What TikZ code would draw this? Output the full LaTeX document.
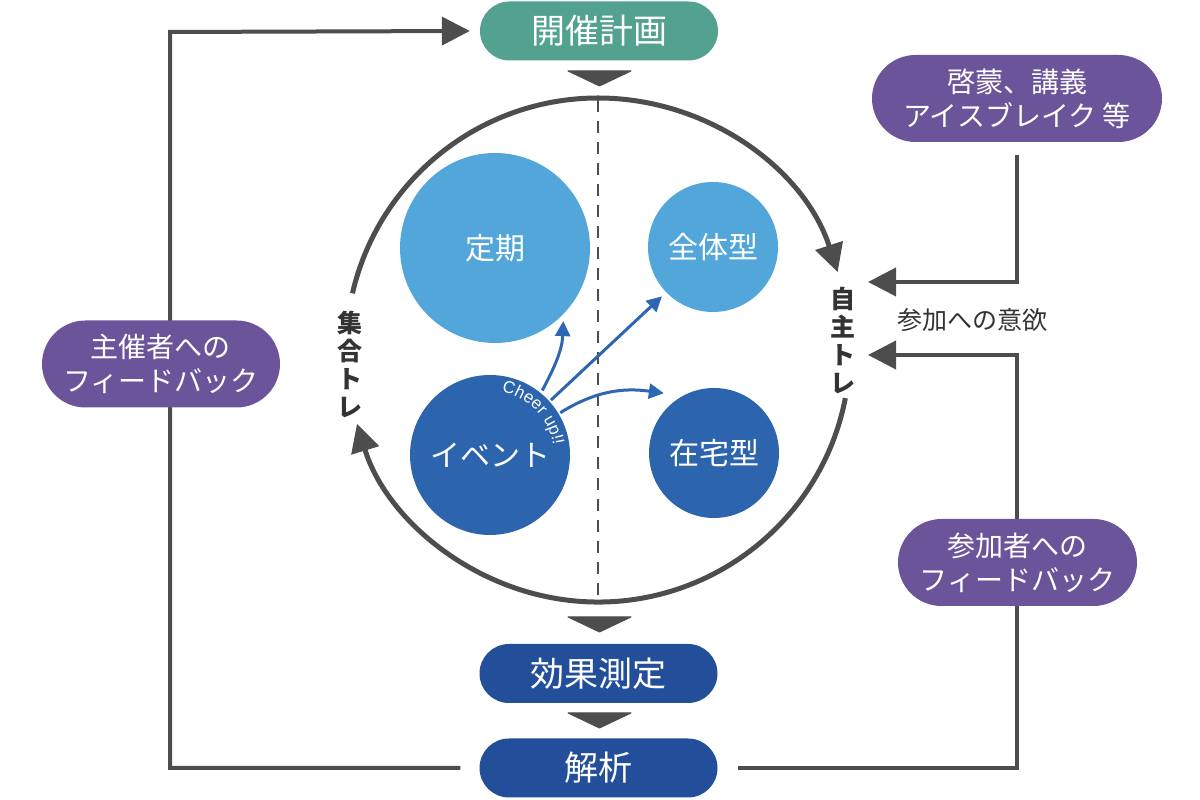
\documentclass[tikz,border=0pt]{standalone}
\usepackage{fontspec}
\setmainfont{Noto Sans CJK JP}
\newfontfamily\latinf{Liberation Sans}
\usetikzlibrary{arrows.meta,decorations.text,shapes.misc}
\definecolor{plangreen}{HTML}{52A28F}
\definecolor{navy}{HTML}{234E99}
\definecolor{purp}{HTML}{6B5499}
\definecolor{lblue}{HTML}{53A6DA}
\definecolor{dblue}{HTML}{2C64AD}
\definecolor{arrblue}{HTML}{2F66B3}
\definecolor{gry}{HTML}{4D4D4D}
\definecolor{txtgry}{HTML}{333333}
\begin{document}
\begin{tikzpicture}[x=1pt,y=1pt,
  pill/.style={rounded rectangle, inner sep=0pt, text=white, align=center},
  stepnode/.style={pill, minimum width=238pt, minimum height=59pt, font=\fontsize{34}{40}\selectfont},
  fb/.style={pill, fill=purp, minimum height=87pt, font=\fontsize{28}{34}\selectfont},
  ball/.style={circle, inner sep=0pt, text=white, font=\fontsize{30}{34}\selectfont},
  ring/.style={draw=gry, line width=5pt},
  conn/.style={draw=gry, line width=4pt},
  bigtip/.style={-{Triangle[length=28pt,width=28pt]}},
  bluearr/.style={draw=arrblue, line width=3pt, -{Triangle[length=15pt,width=15pt]}},
  chev/.style={fill=gry, draw=gry, line width=1pt, line join=round},
  side/.style={text=txtgry, align=center, font=\bfseries\fontsize{25}{28}\selectfont}
]
\useasboundingbox (0,0) rectangle (1200,800);

% big ring
\coordinate (C) at (598,450);
\draw[gry, line width=2pt, dash pattern=on 12pt off 9pt] (598,700) -- (598,200);
\draw[ring, bigtip] (C) ++(90:252pt) arc[start angle=90, end angle=18, radius=252pt];
\draw[ring, bigtip] (C) ++(-11:252pt) arc[start angle=-11, end angle=-163, radius=252pt];
\draw[ring] (C) ++(167:252pt) arc[start angle=167, end angle=90, radius=252pt];

\node[side] (shu) at (350,436) {集\\合\\ト\\レ};
\node[side] (ji) at (843,459) {自\\主\\ト\\レ};

% circles
\node[ball, fill=lblue, minimum size=190pt] (teiki) at (495,552) {定期};
\node[ball, fill=lblue, minimum size=130pt] (zentai) at (713,553) {全体型};
\node[ball, fill=dblue, minimum size=160pt] (event) at (490,345) {イベント};
\node[ball, fill=dblue, minimum size=130pt] (zaitaku) at (714,347) {在宅型};

\path[decorate, decoration={text along path, text color=white, text align=center,
  text={|\latinf\fontsize{17}{17}\selectfont|Cheer up!!}}]
  (event.center) ++(84:64pt) arc[start angle=84, end angle=4, radius=64pt];

% blue arrows
\draw[bluearr] (event.center) ++(51:83pt) coordinate (e1) to[out=62, in=-92] ([shift={(-47:100pt)}]teiki.center);
\draw[bluearr] (event.center) ++(42:82pt) coordinate (e2) -- ([shift={(-136:71pt)}]zentai.center);
\draw[bluearr] (event.center) ++(31:82pt) coordinate (e3) to[out=32, in=172] ([shift={(130:78pt)}]zaitaku.center);

% process nodes
\node[stepnode, fill=plangreen] (plan) at (599,769) {開催計画};
\node[stepnode, fill=navy] (meas) at (598.5,126.5) {効果測定};
\node[stepnode, fill=navy] (an) at (598.5,32) {解析};

\draw[chev] (568,729) -- (631,729) -- (599.5,714) -- cycle;
\draw[chev] (568,183) -- (631,183) -- (599.5,168) -- cycle;
\draw[chev] (568,87) -- (631,87) -- (599.5,72) -- cycle;

% feedback loops
\coordinate (lt) at (170,768);
\draw[conn, bigtip] ([xshift=-19pt]an.west) -| (lt) -- ([xshift=-10pt]plan.west);
\node[fb, minimum width=238pt] (host) at (161,436) {主催者への\\フィードバック};

\node[fb, minimum width=290pt] (kei) at (1017,701.5) {啓蒙、講義\\アイスブレイク 等};
\coordinate (t1) at (868,518);
\coordinate (t2) at (868,445);
\draw[conn, bigtip] ([yshift=-13pt]kei.south) |- (t1);
\draw[conn, bigtip] ([xshift=20pt]an.east) -| (1017,445) -- (t2);
\node[fb, minimum width=239pt] (part) at (1017.5,237.5) {参加者への\\フィードバック};

\node[text=txtgry, font=\fontsize{25}{28}\selectfont] (will) at (972,480) {参加への意欲};
\end{tikzpicture}
\end{document}
